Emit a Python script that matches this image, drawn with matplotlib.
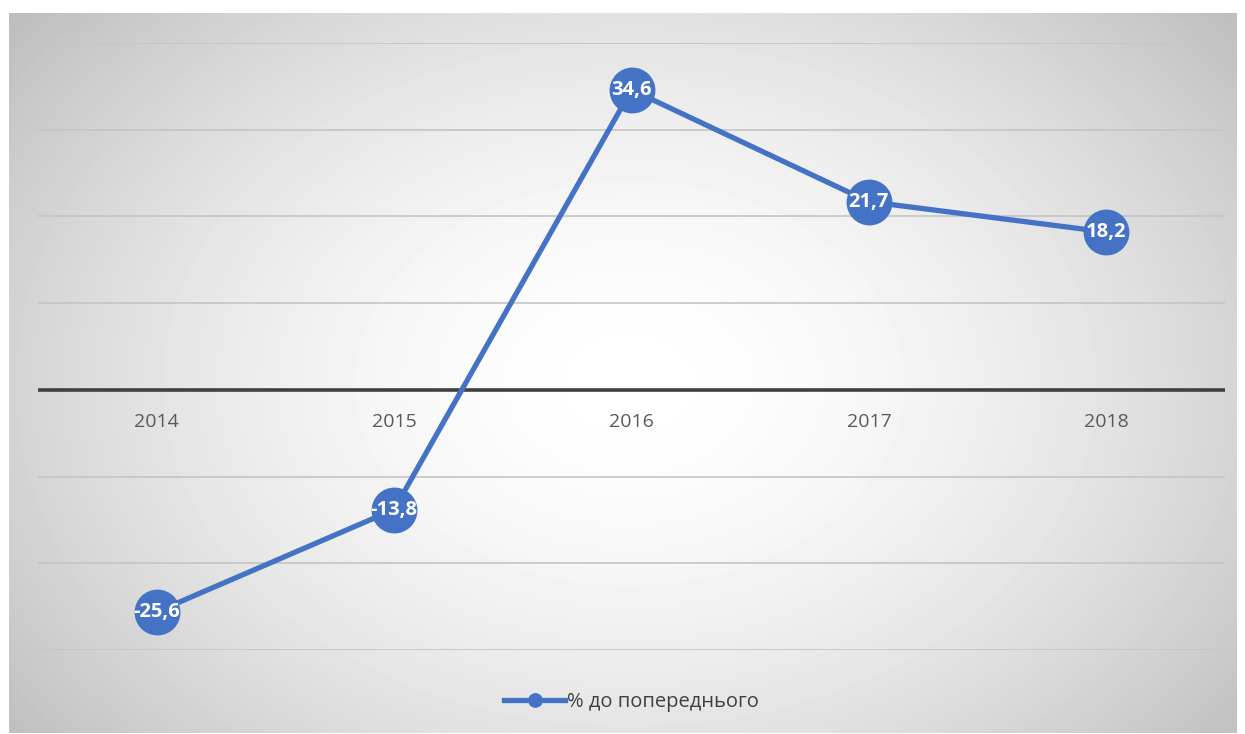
import matplotlib.pyplot as plt
import numpy as np

years = ['2014', '2015', '2016', '2017', '2018']
values = [-25.6, -13.8, 34.6, 21.7, 18.2]
labels = ['-25,6', '-13,8', '34,6', '21,7', '18,2']
series_name = '% до попереднього'

plt.rcParams['font.family'] = ['Open Sans', 'DejaVu Sans']

W, H = 1245, 734
fig = plt.figure(figsize=(W / 100, H / 100), dpi=100)

# radial gradient background of the chart area
bg = fig.add_axes([9 / W, 1 - 733 / H, (1237 - 9) / W, (733 - 13) / H])
yy, xx = np.mgrid[0:720, 0:1228]
cx, cy = 620, 370
r = np.sqrt(((xx - cx) / 680) ** 2 + ((yy - cy) / 500) ** 2)
r = np.clip(r, 0, 1.2)
shade = 1 - 0.2 * r ** 1.7
bg.imshow(shade, cmap='gray', vmin=0, vmax=1, aspect='auto', interpolation='bilinear')
bg.axis('off')

ax = fig.add_axes([38 / W, 1 - 650 / H, (1225 - 38) / W, (650 - 43) / H])
ax.set_facecolor('none')
x = np.arange(len(years))
ax.set_xlim(-0.5, 4.5)
ax.set_ylim(-30, 40)
ax.set_yticks(np.arange(-30, 41, 10))
ax.yaxis.grid(True, color='#c4c4c4', linewidth=1.2)
ax.tick_params(left=False, labelleft=False, bottom=False, labelbottom=False)
for s in ax.spines.values():
    s.set_visible(False)
ax.axhline(0, color='#404040', linewidth=2.6, zorder=2)

ax.plot(x, values, color='#4472c4', linewidth=3.8, marker='o', markersize=32,
        label=series_name, zorder=3)
for xi, v, lab in zip(x, values, labels):
    ax.text(xi, v, lab, color='white', fontsize=14.5, fontweight='bold',
            ha='center', va='center', zorder=4)
for xi, yr in zip(x, years):
    ax.text(xi, -3.7, yr, color='#595959', fontsize=14, ha='center', va='center')

leg = ax.legend(loc='center', bbox_to_anchor=(0.5, -0.085), frameon=False,
                fontsize=14.5, markerscale=0.3, handlelength=3.0, handletextpad=0.1)
for t in leg.get_texts():
    t.set_color('#404040')

fig.savefig('out.png', dpi=100)
